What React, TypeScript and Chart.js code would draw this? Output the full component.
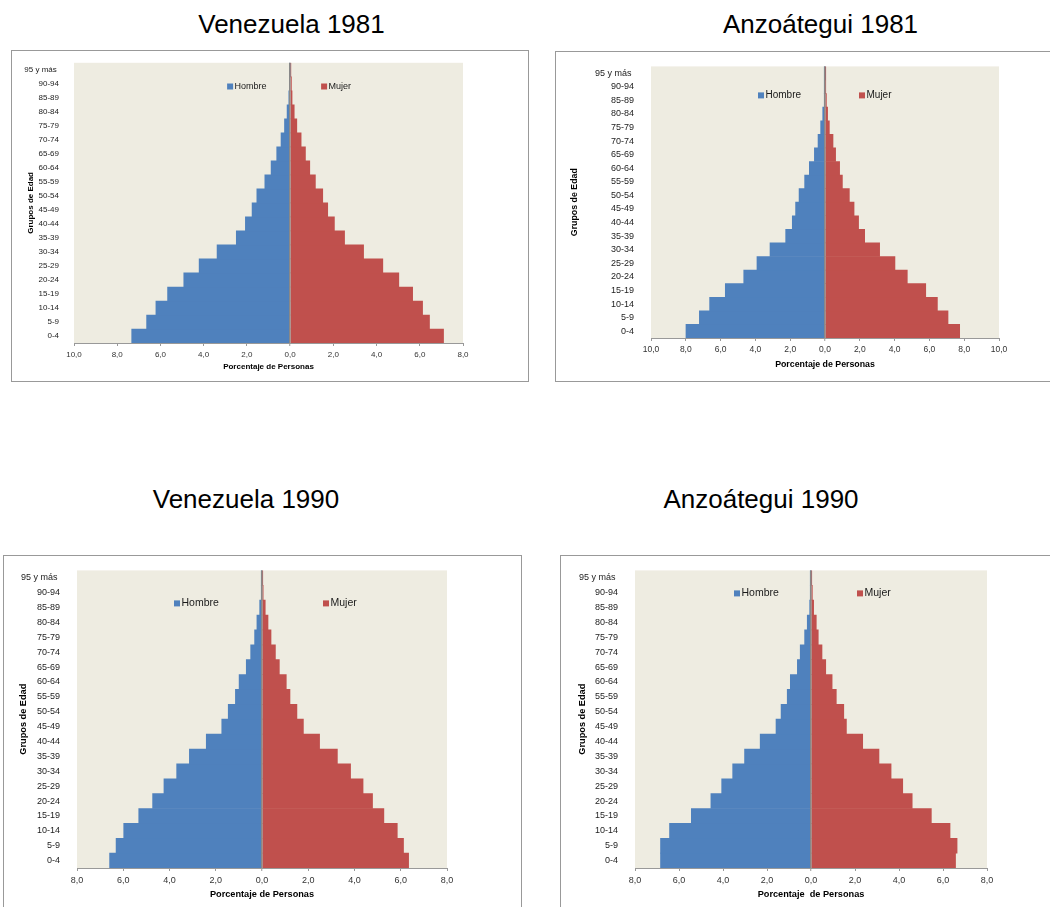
import React, { useEffect, useRef } from "react";
import { Chart, registerables } from "chart.js";

Chart.register(...registerables);

const FONT = 'Arial, "Liberation Sans", sans-serif';
Chart.defaults.font.family = FONT;

// ---------- data ----------
const AGE_GROUPS = [
  "0-4", "5-9", "10-14", "15-19", "20-24", "25-29", "30-34", "35-39", "40-44", "45-49",
  "50-54", "55-59", "60-64", "65-69", "70-74", "75-79", "80-84", "85-89", "90-94", "95 y más ",
];
const SERIES_NAMES = ["Hombre", "Mujer"];

const VEN1981_HOMBRE = [7.33, 6.64, 6.21, 5.67, 4.92, 4.21, 3.38, 2.49, 2.07, 1.76, 1.54, 1.17, 0.88, 0.62, 0.42, 0.26, 0.14, 0.06, 0.03, 0.01];
const VEN1981_MUJER = [7.10, 6.45, 6.13, 5.67, 5.03, 4.29, 3.40, 2.52, 2.05, 1.74, 1.51, 1.17, 0.91, 0.71, 0.51, 0.31, 0.19, 0.09, 0.06, 0.02];
const ANZ1981_HOMBRE = [7.99, 7.22, 6.63, 5.73, 4.67, 3.91, 3.16, 2.26, 1.88, 1.69, 1.49, 1.17, 0.90, 0.61, 0.40, 0.25, 0.13, 0.04, 0.02, 0.01];
const ANZ1981_MUJER = [7.74, 7.07, 6.46, 5.79, 4.73, 4.02, 3.14, 2.28, 1.93, 1.67, 1.40, 1.00, 0.84, 0.61, 0.46, 0.25, 0.15, 0.08, 0.03, 0.01];
const VEN1990_HOMBRE = [6.59, 6.31, 5.98, 5.33, 4.73, 4.24, 3.69, 3.14, 2.41, 1.74, 1.46, 1.15, 0.99, 0.68, 0.49, 0.32, 0.22, 0.10, 0.03, 0.01];
const VEN1990_MUJER = [6.34, 6.12, 5.85, 5.27, 4.78, 4.37, 3.83, 3.26, 2.49, 1.79, 1.51, 1.21, 1.05, 0.75, 0.58, 0.39, 0.26, 0.14, 0.05, 0.02];
const ANZ1990_HOMBRE = [6.84, 6.84, 6.43, 5.44, 4.55, 4.06, 3.56, 3.02, 2.31, 1.59, 1.36, 1.08, 0.94, 0.62, 0.49, 0.29, 0.17, 0.06, 0.02, 0.01];
const ANZ1990_MUJER = [6.57, 6.64, 6.32, 5.47, 4.60, 4.17, 3.64, 3.09, 2.35, 1.61, 1.49, 1.15, 0.96, 0.67, 0.50, 0.33, 0.24, 0.12, 0.06, 0.02];

const VEN1981_X_RANGE = [-10, 8];
const ANZ1981_X_RANGE = [-10, 10];
const VEN1990_X_RANGE = [-8, 8];
const ANZ1990_X_RANGE = [-8, 8];
const X_STEP = 2;

const Y_TITLE = "Grupos de Edad";
const X_TITLES = ["Porcentaje de Personas", "Porcentaje de Personas", "Porcentaje de Personas", "Porcentaje  de Personas"];
const CHART_TITLES = ["Venezuela 1981", "Anzoátegui 1981", "Venezuela 1990", "Anzoátegui 1990"];

// ---------- styles ----------
const BLUE = "#4F81BD";
const RED = "#C0504D";
const PLOT_BG = "#EEECE1";

type Layout = {
  box: [number, number, number, number];
  pad: { top: number; right: number; bottom: number };
  yWidth: number;
  xHeight: number;
  tickFont: number;
  xTickFont: number;
  titleFont: number;
  yTitlePad: number;
  xTitlePad: number;
  yTickPad: number;
  legend: { y: number; offsets: number[]; size: number };
  title: { cx: number; top: number };
};

const LAYOUTS: Layout[] = [
  {
    box: [11, 50, 518, 332],
    pad: { top: 8, right: 65, bottom: 0 },
    yWidth: 62, xHeight: 38,
    tickFont: 8, xTickFont: 8, titleFont: 8,
    yTitlePad: 14.2, xTitlePad: 9.5, yTickPad: 7,
    legend: { y: 23.7, offsets: [-63, 31], size: 9 },
    title: { cx: 291.5, top: 11 },
  },
  {
    box: [555, 51, 500, 331],
    pad: { top: 4, right: 55, bottom: 0 },
    yWidth: 95, xHeight: 43,
    tickFont: 9, xTickFont: 8.5, titleFont: 8.8,
    yTitlePad: 13.6, xTitlePad: 10.7, yTickPad: 9,
    legend: { y: 29, offsets: [-67, 34], size: 10 },
    title: { cx: 820.5, top: 11 },
  },
  {
    box: [3, 555, 519, 362],
    pad: { top: 10, right: 74, bottom: 8 },
    yWidth: 73, xHeight: 40,
    tickFont: 9, xTickFont: 9, titleFont: 9.2,
    yTitlePad: 13.8, xTitlePad: 7.6, yTickPad: 9,
    legend: { y: 33, offsets: [-88, 61], size: 10.5 },
    title: { cx: 246, top: 486 },
  },
  {
    box: [560, 555, 495, 362],
    pad: { top: 10, right: 67, bottom: 8 },
    yWidth: 74, xHeight: 40,
    tickFont: 9, xTickFont: 9, titleFont: 9.2,
    yTitlePad: 15.6, xTitlePad: 7.6, yTickPad: 9,
    legend: { y: 23, offsets: [-77, 46], size: 10.5 },
    title: { cx: 761, top: 486 },
  },
];

const plotBgPlugin = {
  id: "plotBg",
  beforeDraw(chart: any) {
    const { ctx, chartArea: a } = chart;
    ctx.save();
    ctx.fillStyle = PLOT_BG;
    ctx.fillRect(a.left, a.top, a.right - a.left, a.bottom - a.top);
    ctx.restore();
  },
};

const pyramidLegendPlugin = {
  id: "pyramidLegend",
  afterDatasetsDraw(chart: any, _args: any, opts: any) {
    const { ctx, chartArea, scales } = chart;
    const zero = scales.x.getPixelForValue(0);
    const cy = chartArea.top + opts.y;
    const box = 6;
    ctx.save();
    ctx.font = `${opts.size}px ${FONT}`;
    ctx.textBaseline = "middle";
    ctx.textAlign = "left";
    chart.data.datasets.forEach((ds: any, i: number) => {
      const bx = zero + opts.offsets[i];
      ctx.fillStyle = ds.backgroundColor;
      ctx.fillRect(bx, cy - box / 2, box, box);
      ctx.fillStyle = "#1a1a1a";
      ctx.fillText(ds.label, bx + box + 1.5, cy);
    });
    ctx.restore();
  },
};

function fmt(v: number) {
  return Math.abs(v).toFixed(1).replace(".", ",");
}

type PyramidProps = {
  title: string;
  xTitle: string;
  hombre: number[];
  mujer: number[];
  range: number[];
  layout: Layout;
};

function Pyramid({ title, xTitle, hombre, mujer, range, layout }: PyramidProps) {
  const ref = useRef<HTMLCanvasElement | null>(null);
  const [bl, bt, bw, bh] = layout.box;
  const cw = bw - 2;
  const ch = bh - 2;

  useEffect(() => {
    if (!ref.current) return;
    const chart = new Chart(ref.current, {
      type: "bar",
      data: {
        labels: AGE_GROUPS,
        datasets: [
          { label: SERIES_NAMES[0], data: hombre.map((v) => -v), backgroundColor: BLUE, borderWidth: 0 },
          { label: SERIES_NAMES[1], data: mujer, backgroundColor: RED, borderWidth: 0 },
        ],
      },
      plugins: [plotBgPlugin, pyramidLegendPlugin],
      options: {
        indexAxis: "y",
        responsive: false,
        animation: false,
        devicePixelRatio: 1,
        datasets: { bar: { barPercentage: 1, categoryPercentage: 1 } },
        layout: { padding: { left: 0, top: layout.pad.top, right: layout.pad.right, bottom: layout.pad.bottom } },
        plugins: {
          legend: { display: false },
          tooltip: { enabled: false },
          pyramidLegend: layout.legend,
        } as any,
        scales: {
          x: {
            type: "linear",
            stacked: true,
            min: range[0],
            max: range[1],
            afterFit: (scale: any) => { scale.height = layout.xHeight; },
            ticks: {
              stepSize: X_STEP,
              autoSkip: false,
              maxRotation: 0,
              padding: 4,
              color: "#333",
              font: { size: layout.xTickFont, family: FONT },
              callback: (v: any) => fmt(Number(v)),
            },
            grid: {
              display: true,
              z: 1,
              drawOnChartArea: true,
              drawTicks: true,
              tickLength: 3,
              tickColor: "#999",
              tickWidth: 1,
              color: (c: any) => (c.tick && c.tick.value === 0 ? "#888888" : "rgba(0,0,0,0)"),
              lineWidth: (c: any) => (c.tick && c.tick.value === 0 ? 1.5 : 1),
            },
            border: { display: true, color: "#999", width: 1, z: 1 },
            title: {
              display: true,
              text: xTitle,
              color: "#000",
              font: { size: layout.titleFont, weight: "bold", family: FONT },
              padding: { top: 0, bottom: layout.xTitlePad },
            },
          },
          y: {
            type: "category",
            stacked: true,
            reverse: true,
            afterFit: (scale: any) => { scale.width = layout.yWidth; },
            ticks: {
              autoSkip: false,
              padding: layout.yTickPad,
              color: "#222",
              font: { size: layout.tickFont, family: FONT },
            },
            grid: { display: false },
            border: { display: false },
            title: {
              display: true,
              text: Y_TITLE,
              color: "#000",
              font: { size: layout.titleFont, weight: "bold", family: FONT },
              padding: { top: layout.yTitlePad, bottom: 0 },
            },
          },
        },
      } as any,
    });
    return () => chart.destroy();
  }, []);

  return (
    <>
      <div
        style={{
          position: "absolute",
          left: layout.title.cx - 200,
          top: layout.title.top,
          width: 400,
          textAlign: "center",
          fontFamily: FONT,
          fontSize: 26,
          lineHeight: "26px",
          color: "#000",
          whiteSpace: "pre",
        }}
      >
        {title}
      </div>
      <div
        style={{
          position: "absolute",
          left: bl,
          top: bt,
          width: bw,
          height: bh,
          boxSizing: "border-box",
          border: "1px solid #999",
          background: "#fff",
        }}
      >
        <canvas ref={ref} width={cw} height={ch} style={{ display: "block", width: cw, height: ch }} />
      </div>
    </>
  );
}

export default function App() {
  return (
    <div
      style={{
        position: "absolute",
        left: 0,
        top: 0,
        width: 1050,
        height: 907,
        overflow: "hidden",
        background: "#fff",
      }}
    >
      <Pyramid title={CHART_TITLES[0]} xTitle={X_TITLES[0]} hombre={VEN1981_HOMBRE} mujer={VEN1981_MUJER} range={VEN1981_X_RANGE} layout={LAYOUTS[0]} />
      <Pyramid title={CHART_TITLES[1]} xTitle={X_TITLES[1]} hombre={ANZ1981_HOMBRE} mujer={ANZ1981_MUJER} range={ANZ1981_X_RANGE} layout={LAYOUTS[1]} />
      <Pyramid title={CHART_TITLES[2]} xTitle={X_TITLES[2]} hombre={VEN1990_HOMBRE} mujer={VEN1990_MUJER} range={VEN1990_X_RANGE} layout={LAYOUTS[2]} />
      <Pyramid title={CHART_TITLES[3]} xTitle={X_TITLES[3]} hombre={ANZ1990_HOMBRE} mujer={ANZ1990_MUJER} range={ANZ1990_X_RANGE} layout={LAYOUTS[3]} />
    </div>
  );
}
